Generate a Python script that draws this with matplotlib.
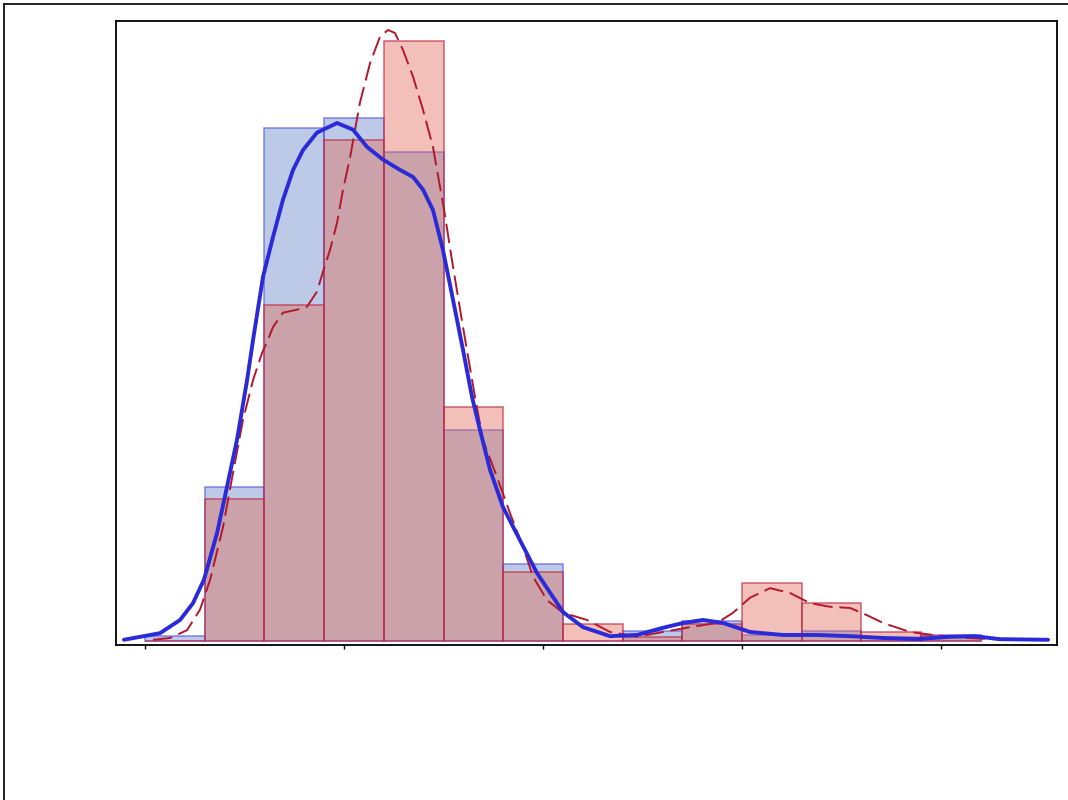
"""
Two overlaid density histograms with their KDE curves (no labels).
Output: out.png
"""
import matplotlib.pyplot as plt
from matplotlib.lines import Line2D

# histogram bins (shared), width 3
bin_edges = [0, 3, 6, 9, 12, 15, 18, 21, 24, 27, 30, 33, 36, 39, 42]

# density x 1000
blue_hist = [0.8, 25.7, 85.5, 87.2, 81.5, 35.2, 12.8, 0.0, 1.7, 3.3, 1.0, 1.7, 0.7, 1.0]
red_hist = [0.0, 23.7, 56.0, 83.5, 100.0, 39.0, 11.5, 2.8, 0.7, 2.8, 9.7, 6.3, 1.5, 0.8]

# KDE curves
blue_kde_x = [-1.06, 0.75, 1.76, 2.41, 2.96, 3.62, 4.12, 4.62, 5.13, 5.43, 5.93, 6.43,
              6.93, 7.44, 7.94, 8.64, 9.65, 10.45, 11.16, 11.96, 12.81, 13.47, 13.97,
              14.47, 14.97, 15.48, 15.98, 16.43, 16.83, 17.34, 17.99, 18.84, 19.70,
              21.01, 22.01, 23.37, 24.72, 26.03, 27.04, 28.04, 29.05, 30.40, 32.06,
              33.77, 35.43, 37.09, 38.79, 40.45, 41.71, 42.96, 45.38]
blue_kde_y = [0.2, 1.3, 3.5, 6.3, 10.2, 18.0, 25.7, 33.5, 43.5, 50.2, 60.7, 67.3,
              73.5, 78.5, 81.8, 84.7, 86.3, 85.2, 82.3, 80.2, 78.5, 77.3, 75.2,
              71.8, 65.2, 56.8, 48.5, 40.7, 35.2, 28.5, 22.3, 16.8, 11.3,
              4.8, 2.3, 0.8, 1.0, 2.2, 3.0, 3.5, 3.0, 1.5, 1.0,
              1.0, 0.8, 0.5, 0.3, 0.7, 0.8, 0.3, 0.2]

red_kde_x = [0.40, 1.26, 2.11, 2.76, 3.27, 3.92, 4.42, 4.92, 5.43, 5.88, 6.18, 6.43,
             6.93, 7.64, 8.14, 8.64, 8.94, 9.30, 9.65, 9.95, 10.30, 10.80, 11.31,
             11.81, 12.21, 12.56, 12.96, 13.47, 13.97, 14.47, 15.03, 15.48, 15.98,
             16.58, 16.98, 17.69, 18.34, 18.99, 19.50, 20.20, 21.01, 22.21, 23.37,
             24.72, 26.03, 27.39, 28.74, 29.55, 30.40, 31.41, 32.41, 33.42, 34.42,
             35.43, 36.28, 37.09, 38.44, 39.60, 41.31, 43.32]
red_kde_y = [0.2, 0.5, 1.8, 5.2, 10.2, 19.0, 28.0, 36.8, 43.5, 48.0, 50.2, 52.3,
             54.7, 55.2, 55.7, 58.2, 61.5, 65.2, 69.7, 75.2, 80.5, 89.7, 96.3,
             100.7, 101.8, 101.3, 98.5, 94.0, 88.5, 82.3, 71.8, 62.3, 52.3,
             40.7, 33.5, 27.3, 21.3, 15.7, 10.7, 6.8, 4.7, 3.5, 1.5,
             0.7, 1.5, 2.3, 3.0, 4.7, 7.2, 8.8, 8.0, 6.3, 5.7,
             5.5, 4.3, 3.0, 1.5, 1.0, 0.5, 0.2]

x_ticks = [0, 10, 20, 30, 40]


def main():
    fig = plt.figure(figsize=(10.68, 8), dpi=100)
    ax = fig.add_axes([0.1086, 0.19375, 0.8811, 0.78])

    widths = [b - a for a, b in zip(bin_edges[:-1], bin_edges[1:])]
    ax.bar(bin_edges[:-1], blue_hist, width=widths, align="edge",
           color=(0.29, 0.44, 0.75, 0.37), edgecolor=(0.3, 0.3, 0.88, 0.6), linewidth=1.2)
    ax.bar(bin_edges[:-1], red_hist, width=widths, align="edge",
           color=(0.88, 0.42, 0.34, 0.42), edgecolor=(0.75, 0.15, 0.25, 0.65), linewidth=1.2)

    ax.plot(red_kde_x, red_kde_y, color="#b2182b", linewidth=1.4, dashes=(10, 3.5),
            dash_joinstyle="round")
    ax.plot(blue_kde_x, blue_kde_y, color="#2a2ad8", linewidth=2.8,
            solid_joinstyle="round", solid_capstyle="round")

    ax.set_xlim(-1.46, 45.83)
    ax.set_ylim(-0.67, 103.3)
    ax.set_xticks(x_ticks)
    ax.set_xticklabels([])
    ax.set_yticks([])
    ax.tick_params(axis="x", direction="out", length=3, width=1)
    for s in ax.spines.values():
        s.set_linewidth(1.3)

    # outer frame (only top and left edges are in view)
    fx = 3.5 / 1068
    fy = 1 - 3.5 / 800
    fig.add_artist(Line2D([fx, fx], [0, fy], transform=fig.transFigure, color="black", linewidth=1.2))
    fig.add_artist(Line2D([fx, 1], [fy, fy], transform=fig.transFigure, color="black", linewidth=1.2))

    fig.savefig("out.png", dpi=100)
    plt.close(fig)


if __name__ == "__main__":
    main()
